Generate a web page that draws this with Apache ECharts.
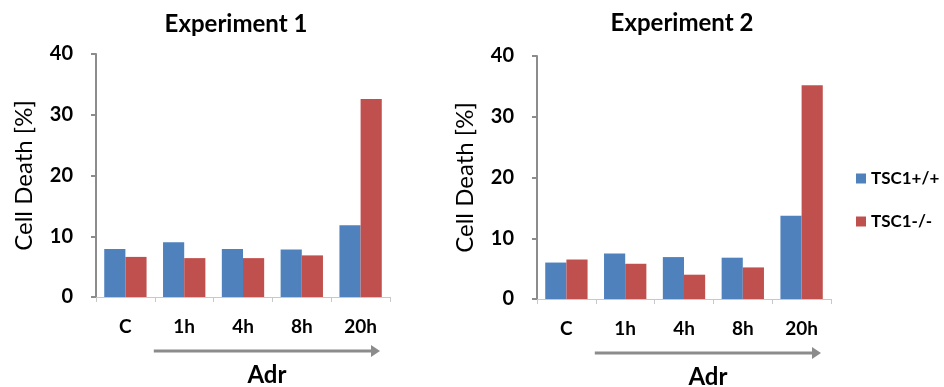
<!DOCTYPE html>
<html>
<head>
<meta charset="utf-8">
<script src="https://cdn.jsdelivr.net/npm/echarts@6/dist/echarts.min.js"></script>
<style>
html,body{margin:0;padding:0;background:#fff;}
#chart{width:944px;height:387px;}
</style>
</head>
<body>
<div id="chart"></div>
<script>
const categories = ['C', '1h', '4h', '8h', '20h'];
const seriesNames = ['TSC1+/+', 'TSC1-/-'];
const exp1WT = [7.9, 9.0, 7.9, 7.8, 11.8];
const exp1KO = [6.6, 6.4, 6.4, 6.85, 32.6];
const exp2WT = [6.0, 7.5, 6.9, 6.8, 13.7];
const exp2KO = [6.5, 5.8, 4.0, 5.2, 35.2];
const titles = ['Experiment 1', 'Experiment 2'];
const yTicks = { min: 0, max: 40, interval: 10 };
const yName = 'Cell Death [%]';
const arrowLabel = 'Adr';

const FONT = 'Lato, "Open Sans", sans-serif';
const BLUE = '#4F81BD';
const RED = '#C0504D';
const AXIS_GRAY = '#8c8c8c';

const grids = [
  { left: 96, top: 54, width: 294, height: 243 },
  { left: 537, top: 56, width: 294, height: 243 }
];

function xAxisFor(i) {
  return {
    type: 'category', gridIndex: i, data: categories,
    axisLine: { lineStyle: { color: '#c8c8c8', width: 1 } },
    axisTick: { show: true, alignWithLabel: false, length: 5, lineStyle: { color: '#c8c8c8' } },
    axisLabel: { margin: 20, color: '#000', fontFamily: FONT, fontWeight: 'bold', fontSize: 19 }
  };
}
function yAxisFor(i) {
  return {
    type: 'value', gridIndex: i, min: yTicks.min, max: yTicks.max, interval: yTicks.interval,
    name: yName, nameLocation: 'middle', nameRotate: 90, nameGap: 60,
    nameTextStyle: { fontFamily: FONT, fontSize: 24, color: '#000' },
    axisLine: { show: true, lineStyle: { color: AXIS_GRAY, width: 2 } },
    axisTick: { show: true, length: 5, lineStyle: { color: AXIS_GRAY, width: 2 } },
    splitLine: { show: false },
    axisLabel: { margin: 23, color: '#000', fontFamily: FONT, fontWeight: 'bold', fontSize: 20 }
  };
}
function barSeries(name, data, i, color) {
  return {
    name, type: 'bar', xAxisIndex: i, yAxisIndex: i, data,
    barGap: '0%', barCategoryGap: '28%',
    itemStyle: { color }, emphasis: { disabled: true }
  };
}

const chart = echarts.init(document.getElementById('chart'), null, { renderer: 'canvas' });
const option = {
  animation: false,
  title: [
    { text: titles[0], left: 231, top: 7, textAlign: 'center',
      textStyle: { fontFamily: FONT, fontWeight: 'bold', fontSize: 24, color: '#000' } },
    { text: titles[1], left: 677, top: 6, textAlign: 'center',
      textStyle: { fontFamily: FONT, fontWeight: 'bold', fontSize: 24, color: '#000' } }
  ],
  legend: {
    orient: 'vertical', left: 851, top: 165, itemWidth: 10, itemHeight: 10, itemGap: 26,
    icon: 'rect', data: seriesNames,
    textStyle: { fontFamily: FONT, fontWeight: 'bold', fontSize: 17, color: '#000' }
  },
  grid: grids,
  xAxis: [xAxisFor(0), xAxisFor(1)],
  yAxis: [yAxisFor(0), yAxisFor(1)],
  series: [
    barSeries(seriesNames[0], exp1WT, 0, BLUE),
    barSeries(seriesNames[1], exp1KO, 0, RED),
    barSeries(seriesNames[0], exp2WT, 1, BLUE),
    barSeries(seriesNames[1], exp2KO, 1, RED)
  ]
};
chart.setOption(option);

// Arrows under the treated time points, positioned from the axes
const graphics = [];
[0, 1].forEach(function (i) {
  const c0 = chart.convertToPixel({ xAxisIndex: i }, categories[0]);
  const c1 = chart.convertToPixel({ xAxisIndex: i }, categories[1]);
  const cLast = chart.convertToPixel({ xAxisIndex: i }, categories[categories.length - 1]);
  const band = c1 - c0;
  const x1 = (c0 + c1) / 2 - 1;
  const x2 = cLast + band * 0.33;
  const y = grids[i].top + grids[i].height + 54;
  graphics.push({
    type: 'line', shape: { x1: x1, y1: y, x2: x2 - 8, y2: y },
    style: { stroke: AXIS_GRAY, lineWidth: 3 }, silent: true
  });
  graphics.push({
    type: 'polygon', shape: { points: [[x2 - 9, y - 6], [x2, y], [x2 - 9, y + 6]] },
    style: { fill: AXIS_GRAY }, silent: true
  });
  graphics.push({
    type: 'text', x: (x1 + x2) / 2, y: y + 24,
    style: { text: arrowLabel, fontFamily: FONT, fontWeight: 'bold', fontSize: 24, fill: '#000',
      align: 'center', verticalAlign: 'middle' }, silent: true
  });
});
chart.setOption({ graphic: graphics });
</script>
</body>
</html>
